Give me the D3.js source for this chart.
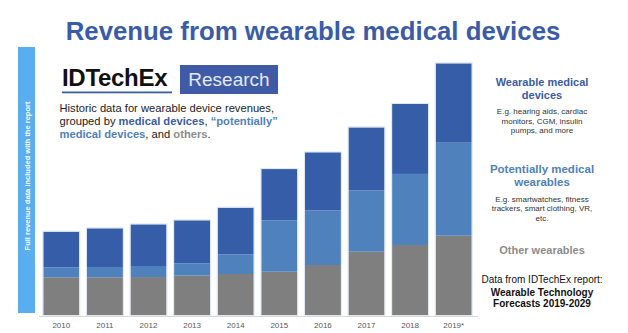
<!DOCTYPE html>
<html><head><meta charset="utf-8">
<script src="https://cdn.jsdelivr.net/npm/d3@7"></script>
<style>
html,body{margin:0;padding:0;background:#fff;}
svg{display:block;font-family:"Liberation Sans",Arial,sans-serif;}
</style></head>
<body><svg id="c" width="628" height="333"></svg>
<script>
const years = ["2010","2011","2012","2013","2014","2015","2016","2017","2018","2019*"];
const otherWearables = [4.54,4.54,4.57,4.73,4.93,5.20,6.00,7.58,8.38,9.48];
const potentiallyMedical = [1.19,1.22,1.31,1.47,2.34,6.11,6.48,7.29,8.44,11.05];
const medicalDevices = [4.23,4.60,4.95,5.11,5.54,6.09,6.91,7.48,8.32,9.43];
const seriesKeys = ["other","potential","medical"];
const seriesColors = {other:"#7f7f7f", potential:"#4f81bd", medical:"#365ea8"};

const rows = years.map((y,i)=>({year:y, other:otherWearables[i], potential:potentiallyMedical[i], medical:medicalDevices[i]}));

const svg = d3.select("#c");
const x = d3.scaleBand().domain(years).range([39.5,475.5]).paddingInner(0.174).paddingOuter(0.087);
const y = d3.scaleLinear().domain([0,30]).range([315.5,63]);

// title
svg.append("text").attr("x",313).attr("y",40).attr("text-anchor","middle")
  .attr("font-size",25.8).attr("font-weight","bold").attr("fill","#3a5ca8")
  .text("Revenue from wearable medical devices");

// left side bar
svg.append("rect").attr("x",18).attr("y",47).attr("width",17).attr("height",266).attr("fill","#5aaef0");
svg.append("text").attr("transform","translate(29.5,176) rotate(-90)").attr("text-anchor","middle")
  .attr("font-size",7.5).attr("font-weight","bold").attr("fill","#ffffff")
  .text("Full revenue data included with the report");

// axis line
svg.append("line").attr("x1",39).attr("x2",478).attr("y1",316.5).attr("y2",316.5)
  .attr("stroke","#d9d9d9").attr("stroke-width",1.2);

// bars
const stack = d3.stack().keys(seriesKeys)(rows);
const g = svg.append("g");
stack.forEach(s=>{
  g.selectAll(null).data(s).join("rect")
    .attr("x",d=>x(d.data.year)).attr("width",x.bandwidth())
    .attr("y",d=>y(d[1])).attr("height",d=>y(d[0])-y(d[1]))
    .attr("fill",seriesColors[s.key]);
});
g.selectAll(null).data(rows).join("rect")
  .attr("x",d=>x(d.year)-0.5).attr("width",x.bandwidth()+1)
  .attr("y",d=>y(d.other+d.potential+d.medical)-0.5)
  .attr("height",d=>y(0)-y(d.other+d.potential+d.medical)+0.5)
  .attr("fill","none").attr("stroke","#dfe7f3").attr("stroke-width",1);

// x labels
svg.append("g").selectAll("text").data(years).join("text")
  .attr("x",d=>x(d)+x.bandwidth()/2).attr("y",327.5).attr("text-anchor","middle")
  .attr("font-size",8).attr("fill","#595959").text(d=>d);

// logo
svg.append("text").attr("x",62).attr("y",86).attr("font-size",24).attr("font-weight","bold")
  .attr("fill","#111").attr("letter-spacing",-0.3).text("IDTechEx");
svg.append("rect").attr("x",62).attr("y",91.5).attr("width",110).attr("height",1.8).attr("fill","#3a5ca8");
svg.append("rect").attr("x",180).attr("y",65).attr("width",98).attr("height",29).attr("fill","#3f5aa6");
svg.append("text").attr("x",229).attr("y",86).attr("text-anchor","middle").attr("font-size",19)
  .attr("fill","#e3e9f5").text("Research");

// description
const desc = svg.append("g").attr("font-size",11.2).attr("fill","#222");
const l1 = desc.append("text").attr("x",59.5).attr("y",111.5);
l1.append("tspan").text("Historic data for wearable device revenues,");
const l2 = desc.append("text").attr("x",59.5).attr("y",125);
l2.append("tspan").text("grouped by ");
l2.append("tspan").attr("font-weight","bold").attr("fill","#3a5ca8").text("medical devices");
l2.append("tspan").text(", ");
l2.append("tspan").attr("font-weight","bold").attr("fill","#4f81bd").text("\u201Cpotentially\u201D");
const l3 = desc.append("text").attr("x",59.5).attr("y",138);
l3.append("tspan").attr("font-weight","bold").attr("fill","#4f81bd").text("medical devices");
l3.append("tspan").text(", and ");
l3.append("tspan").attr("font-weight","bold").attr("fill","#8c8c8c").text("others");
l3.append("tspan").text(".");

// right legend
const cx = 542;
const lg = svg.append("g").attr("text-anchor","middle");
function lines(arr, y0, dy, size, weight, color){
  arr.forEach((t,i)=>lg.append("text").attr("x",cx).attr("y",y0+i*dy).attr("font-size",size)
    .attr("font-weight",weight).attr("fill",color).text(t));
}
lines(["Wearable medical","devices"],86,12.5,11,"bold","#3a5ca8");
lines(["E.g. hearing aids, cardiac","monitors, CGM, insulin","pumps, and more"],114.3,9.3,8,"normal","#333");
lines(["Potentially medical","wearables"],172.7,13.3,11.5,"bold","#4f81bd");
lines(["E.g. smartwatches, fitness","trackers, smart clothing, VR,","etc."],201.7,9.5,8,"normal","#333");
lines(["Other wearables"],254,0,11,"bold","#8c8c8c");
lines(["Data from IDTechEx report:"],282.7,0,10,"normal","#111");
lines(["Wearable Technology","Forecasts 2019-2029"],296,11,10,"bold","#111");
</script>
</body></html>
